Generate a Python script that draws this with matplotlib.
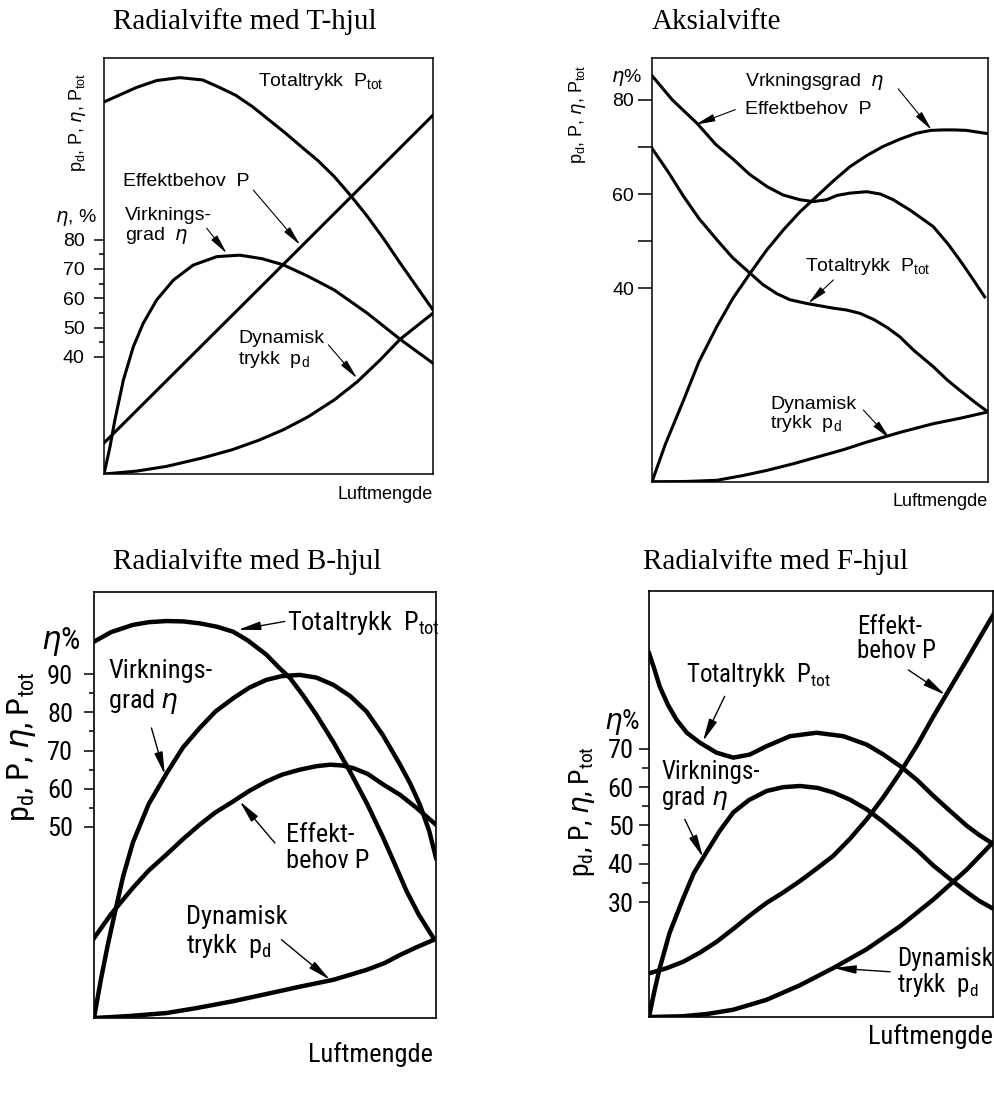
import matplotlib
matplotlib.use("Agg")
import matplotlib.pyplot as plt

plt.rcParams["mathtext.default"] = "regular"

W, H = 994, 1117
WIDE = ["Liberation Sans", "DejaVu Sans"]
NARROW = ["Roboto Condensed", "Liberation Sans", "DejaVu Sans"]
SERIF = ["Liberation Serif", "DejaVu Serif"]

# ---- Radialvifte med T-hjul ----
t_x_ptot = [0, 5, 10, 16, 23, 30, 35, 40, 45, 50, 55, 60, 65, 70, 75, 80, 85, 90, 95, 100]
t_ptot = [127, 129.5, 132, 134.3, 135.3, 134.5, 132, 129.3, 125.5, 121, 116.5, 111.7, 107, 101.5, 95, 88, 80.3, 72, 64, 56]
t_x_p = [0, 50, 100]
t_p = [10.6, 66.5, 122.5]
t_x_eta = [0, 1.8, 3.3, 5.9, 8.9, 11.9, 16, 21.1, 27.1, 34.3, 41.3, 48, 54.5, 62, 70, 80, 90, 100]
t_eta = [0, 9.2, 18.4, 32.1, 43.4, 51.4, 59.4, 66.2, 71.3, 74.2, 74.7, 73.5, 71.4, 67.5, 62.8, 54.9, 46, 37.8]
t_x_pd = [0, 10, 19, 30, 39, 47, 54.5, 62, 70, 77, 84, 90, 100]
t_pd = [0, 1, 2.6, 5.5, 8.3, 11.5, 15.1, 19.5, 25.3, 31.5, 39, 46, 54.9]

# ---- Aksialvifte ----
a_x_p = [0, 6, 13.4, 19, 24.3, 29, 34.2, 39, 44, 48, 52, 55, 58.9, 63.9, 68, 71.8, 77, 83.7, 88, 91.6, 95, 99]
a_p = [85.1, 80, 75, 70.5, 67.3, 64.2, 61.6, 59.8, 58.8, 58.4, 58.8, 59.7, 60.2, 60.5, 60, 58.8, 56.5, 53.1, 49.5, 46, 42.5, 38.2]
a_x_ptot = [0, 5, 9.4, 14, 19.3, 24, 29.2, 33, 37.1, 41, 46, 50, 54, 58, 61.9, 66, 70, 73.8, 78, 83.7, 88, 91.6, 96, 100]
a_ptot = [69.7, 64.5, 59.5, 54.8, 50.3, 46.5, 43.2, 40.8, 38.9, 37.6, 36.8, 36.3, 35.8, 35.4, 34.7, 33.4, 31.7, 29.7, 26.8, 23.4, 20.5, 18.4, 15.9, 13.8]
a_x_eta = [0, 4, 9.4, 14, 19.3, 24, 29.2, 34, 39.1, 44, 49, 54, 58.9, 64, 68.8, 74, 78.7, 83, 86.6, 90, 93.6, 100]
a_eta = [-1, 7, 16.3, 24.5, 31.9, 37.8, 43.2, 48, 52.4, 56.2, 59.5, 62.8, 65.8, 68.2, 70.1, 71.7, 72.9, 73.5, 73.6, 73.6, 73.5, 72.8]
a_x_pd = [0, 10, 19.3, 27, 34.2, 42, 49, 57, 63.9, 74, 83.7, 92, 100]
a_pd = [-1, -0.95, -0.7, 0.3, 1.4, 2.8, 4.2, 5.8, 7.4, 9.5, 11.3, 12.5, 13.8]

# ---- Radialvifte med B-hjul ----
b_x_ptot = [0, 5, 11.4, 16, 21.2, 26, 30.9, 36, 40.7, 45, 50.4, 54, 57.3, 61, 65, 70, 74.8, 80, 84.6, 88, 91.4, 95, 99.2]
b_ptot = [98.5, 101, 102.9, 103.6, 103.9, 103.8, 103.3, 102.4, 101.1, 98.8, 95.1, 91.8, 89, 84.6, 79.4, 72.2, 64.6, 55.8, 47.1, 40.2, 33.2, 27, 21]
b_x_eta = [0, 2, 4, 6, 8.5, 11.4, 16, 21.2, 26, 30.9, 35.5, 40.7, 45.5, 50.4, 55, 60.2, 65, 70, 75, 79.7, 84.5, 89.5, 92.5, 95.3, 98, 100]
b_eta = [0, 10, 19, 27.1, 37, 46, 56, 64, 70.8, 75.9, 80.2, 83.7, 86.5, 88.5, 89.5, 89.8, 89.1, 87.2, 84.2, 80.2, 74, 66.3, 61.3, 55.8, 49, 41.9]
b_x_p = [0, 5, 11.4, 16, 21.2, 26, 30.9, 35.5, 40.7, 45.5, 50.4, 55, 60.2, 65, 69, 72.5, 75.8, 80, 84.6, 89.5, 94.3, 100]
b_p = [20.9, 27.2, 34.1, 38.6, 42.8, 46.8, 50.6, 53.8, 56.7, 59.5, 61.9, 63.7, 65, 65.9, 66.3, 66.1, 65.4, 63.9, 61.1, 58.4, 55, 50.6]
b_x_pd = [0, 10, 21.2, 30, 40.7, 50, 60.2, 70, 79.7, 85, 89.5, 94, 99.2]
b_pd = [0, 0.5, 1.3, 2.6, 4.4, 6.2, 8.2, 10, 12.6, 14.4, 16.5, 18.4, 20.4]

# ---- Radialvifte med F-hjul ----
f_x_ptot = [0, 1.5, 3.1, 5.5, 8, 11, 14.8, 19.6, 24.5, 29.3, 34.2, 41, 48.7, 56.5, 63.3, 68, 73, 78, 82.7, 87.5, 92.4, 96, 100]
f_ptot = [95, 91, 86.3, 81.5, 77.6, 74.2, 71.6, 69, 67.7, 68.5, 70.7, 73.3, 74.2, 73.3, 71.1, 68.6, 65.5, 61.8, 57.7, 53.8, 49.9, 47.5, 45.2]
f_x_eta = [0, 1.5, 3.1, 6, 9.9, 13, 16.7, 20.5, 24.5, 29, 34.2, 39, 43.9, 49, 53.6, 58.5, 63.3, 68, 73, 78, 82.7, 87.5, 92.4, 96, 100]
f_eta = [0, 6.5, 12.7, 22, 30.9, 37.5, 43, 48.5, 53.4, 56.6, 59, 60, 60.3, 59.8, 58.6, 56.7, 54.2, 51, 47.3, 43.5, 39.5, 36, 32.6, 30.3, 28.3]
f_x_p = [0, 5, 9.9, 14.8, 19.6, 24.5, 29.3, 34.2, 39, 43.9, 48.7, 53.6, 58.5, 63.3, 68, 73, 78, 82.7, 87.5, 92.4, 96, 100]
f_p = [11.4, 12.7, 14.4, 16.8, 19.6, 23, 26.5, 29.8, 32.5, 35.5, 38.7, 42.1, 46.6, 51.6, 57.2, 63.8, 71, 78.5, 85.8, 93.2, 98.8, 104.9]
f_x_pd = [0, 9.9, 17, 24.5, 34.2, 43.9, 53.6, 63.3, 73, 82.7, 92.4, 100]
f_pd = [0, 0.2, 0.8, 1.9, 4.5, 8.3, 12.8, 17.7, 23.7, 30.7, 38.5, 45.6]

ETA = r"$\mathit{\eta}$"
YLABEL = "p$_d$, P, " + ETA + ", P$_{tot}$"
TOT = "Totaltrykk  P$_{tot}$"
PD = "Dynamisk\ntrykk  p$_d$"

fig = plt.figure(figsize=(W / 100, H / 100), dpi=100)


def px_axes(x0, y0, x1, y1):
    return fig.add_axes([x0 / W, 1 - y1 / H, (x1 - x0) / W, (y1 - y0) / H])


def ftext(px, py, s, **kw):
    fig.text(px / W, 1 - py / H, s, **kw)


def style(ax, ylim, major, minor, fam, size, pad, majlen, minlen, lw):
    ax.set_xlim(0, 100)
    ax.set_ylim(*ylim)
    ax.set_xticks([])
    ax.set_yticks(major)
    ax.set_yticks(minor, minor=True)
    ax.tick_params(axis="y", which="major", length=majlen, width=1.1, pad=pad,
                   direction="out", labelsize=size)
    ax.tick_params(axis="y", which="minor", length=minlen, width=1.1, direction="out")
    for lab in ax.get_yticklabels():
        lab.set_family(fam)
    for s in ax.spines.values():
        s.set_linewidth(lw)


def arrow(ax, tail, head, lw=0.8, scale=15):
    ax.annotate("", xy=head, xytext=tail,
                arrowprops=dict(arrowstyle="-|>,head_length=0.8,head_width=0.15",
                                lw=lw, color="black", shrinkA=0, shrinkB=0,
                                mutation_scale=scale))


# ---------------- panel 1 ----------------
ax1 = px_axes(104, 58, 433, 474)
style(ax1, (0, 142), [40, 50, 60, 70, 80], [45, 55, 65, 75], WIDE, 14, 7, 7, 3.5, 1.1)
lw1 = 2.2
ax1.plot(t_x_ptot, t_ptot, color="black", lw=lw1)
ax1.plot(t_x_p, t_p, color="black", lw=lw1)
ax1.plot(t_x_eta, t_eta, color="black", lw=lw1)
ax1.plot(t_x_pd, t_pd, color="black", lw=lw1)
kw1 = dict(family=WIDE, fontsize=14, ha="left", va="center")
ax1.text(46.9, 133.9, TOT, **kw1)
ax1.text(5.8, 99.8, "Effektbehov  P", **kw1)
ax1.text(6.3, 84.4, "Virknings-\ngrad  " + ETA, linespacing=1.1, **kw1)
ax1.text(40.8, 42.4, PD, linespacing=1.1, **kw1)
arrow(ax1, (45.4, 96.9), (59.6, 78.2))
arrow(ax1, (31.2, 83.9), (37.3, 75.3))
arrow(ax1, (68.2, 44.1), (76.9, 32.7))
ftext(97, 217, ETA + ", %", family=WIDE, fontsize=14, ha="right", va="center")
ftext(77, 122, YLABEL, family=WIDE, fontsize=13, rotation=90, ha="center", va="center")
ftext(433, 495, "Luftmengde", family=WIDE, fontsize=13, ha="right", va="center")
ftext(113, 22, "Radialvifte med T-hjul", family=SERIF, fontsize=21, ha="left", va="center")

# ---------------- panel 2 ----------------
ax2 = px_axes(652, 58, 988, 482)
style(ax2, (-1.06, 88.85), [40, 60, 80], [50, 70], WIDE, 14, 3, 10, 10, 1.1)
ax2.plot(a_x_p, a_p, color="black", lw=lw1)
ax2.plot(a_x_ptot, a_ptot, color="black", lw=lw1)
ax2.plot(a_x_eta, a_eta, color="black", lw=lw1)
ax2.plot(a_x_pd, a_pd, color="black", lw=lw1)
ax2.text(27.7, 83.9, "Vrkningsgrad  " + ETA, **kw1)
ax2.text(27.7, 77.9, "Effektbehov  P", **kw1)
ax2.text(45.5, 44.6, TOT, **kw1)
ax2.text(35.1, 13.2, PD, linespacing=1.0, **kw1)
arrow(ax2, (73.3, 82.3), (83.2, 73.6))
arrow(ax2, (24.8, 77.9), (12.9, 74.7))
arrow(ax2, (54, 41.8), (46.5, 36.8))
arrow(ax2, (62.9, 14.2), (70.8, 8.1))
ftext(642, 77, ETA + "%", family=WIDE, fontsize=14, ha="right", va="center")
ftext(577, 114, YLABEL, family=WIDE, fontsize=13, rotation=90, ha="center", va="center")
ftext(988, 502, "Luftmengde", family=WIDE, fontsize=13, ha="right", va="center")
ftext(652, 22, "Aksialvifte", family=SERIF, fontsize=21, ha="left", va="center")

# ---------------- panel 3 ----------------
ax3 = px_axes(94, 592, 436, 1018)
style(ax3, (0, 111.5), [50, 60, 70, 80, 90], [55, 65, 75, 85], NARROW, 19, 8, 7, 3.5, 1.2)
lw3 = 3.2
ax3.plot(b_x_ptot, b_ptot, color="black", lw=lw3)
ax3.plot(b_x_eta, b_eta, color="black", lw=lw3)
ax3.plot(b_x_p, b_p, color="black", lw=lw3)
ax3.plot(b_x_pd, b_pd, color="black", lw=lw3)
kw3 = dict(family=NARROW, fontsize=19, ha="left", va="center")
ax3.text(56.3, 103.3, TOT, **kw3)
ax3.text(4.1, 86.5, "Virknings-\ngrad " + ETA, linespacing=1.15, **kw3)
ax3.text(56.1, 44.5, "Effekt-\nbehov P", linespacing=1.15, **kw3)
ax3.text(26.8, 22.3, PD, linespacing=1.15, **kw3)
arrow(ax3, (55.8, 103.8), (42.1, 101.6), lw=1.0, scale=17)
arrow(ax3, (16.8, 75.9), (20.7, 63.7), lw=1.0, scale=17)
arrow(ax3, (52.9, 45.8), (42.6, 56.7), lw=1.0, scale=17)
arrow(ax3, (54.8, 20.5), (69, 10), lw=1.0, scale=17)
ftext(80, 642, ETA + "%", family=NARROW, fontsize=22, ha="right", va="center")
ftext(22, 747, YLABEL, family=NARROW, fontsize=23, rotation=90, ha="center", va="center")
ftext(433, 1055, "Luftmengde", family=NARROW, fontsize=19, ha="right", va="center")
ftext(113, 562, "Radialvifte med B-hjul", family=SERIF, fontsize=21, ha="left", va="center")

# ---------------- panel 4 ----------------
ax4 = px_axes(649, 591, 993, 1017)
style(ax4, (0, 111.2), [30, 40, 50, 60, 70], [35, 45, 55, 65], NARROW, 19, 4, 7, 5, 1.2)
ax4.plot(f_x_ptot, f_ptot, color="black", lw=lw3)
ax4.plot(f_x_eta, f_eta, color="black", lw=lw3)
ax4.plot(f_x_p, f_p, color="black", lw=lw3)
ax4.plot(f_x_pd, f_pd, color="black", lw=lw3)
kw4 = dict(family=NARROW, fontsize=18, ha="left", va="center")
ax4.text(60.4, 98.6, "Effekt-\nbehov P", linespacing=1.0, **kw4)
ax4.text(10.9, 89.3, TOT, **kw4)
ax4.text(3.6, 60.3, "Virknings-\ngrad " + ETA, linespacing=1.0, **kw4)
ax4.text(72, 11.6, PD, linespacing=1.0, **kw4)
arrow(ax4, (75.4, 90.6), (86.1, 84.1), lw=1.0, scale=17)
arrow(ax4, (22, 83.7), (15.7, 72), lw=1.0, scale=17)
arrow(ax4, (10.4, 51.6), (15.7, 41.7), lw=1.0, scale=17)
arrow(ax4, (70.1, 11.8), (53.6, 12.8), lw=1.0, scale=17)
ftext(640, 722, ETA + "%", family=NARROW, fontsize=20, ha="right", va="center")
ftext(582, 812, YLABEL, family=NARROW, fontsize=20, rotation=90, ha="center", va="center")
ftext(993, 1037, "Luftmengde", family=NARROW, fontsize=19, ha="right", va="center")
ftext(643, 562, "Radialvifte med F-hjul", family=SERIF, fontsize=21, ha="left", va="center")

fig.savefig("out.png", dpi=100)
